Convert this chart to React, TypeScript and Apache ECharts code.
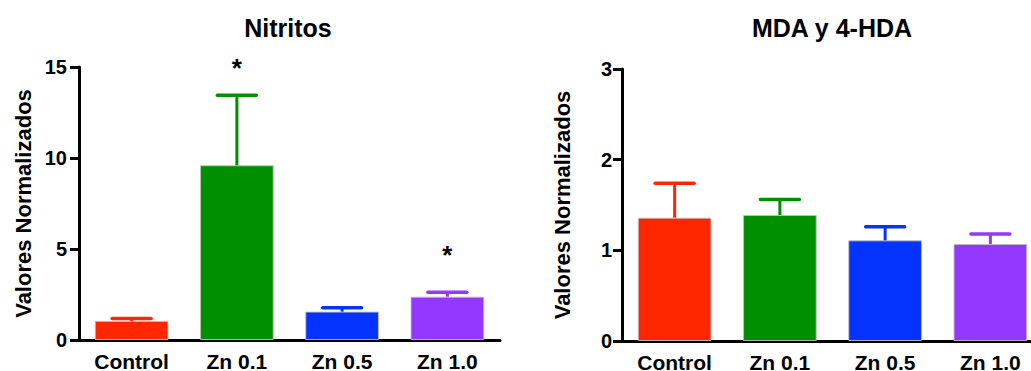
import React, { useEffect, useRef } from "react";
import * as echarts from "echarts";

const categories = ["Control", "Zn 0.1", "Zn 0.5", "Zn 1.0"];
const barColors = ["#FF2600", "#008F00", "#0433FF", "#9437FF"];

const nitritosMean = [1.05, 9.6, 1.56, 2.38];
const nitritosUpper = [1.18, 13.45, 1.77, 2.62];
const nitritosStarY = [null, 14.97, null, 4.67];

const mdaMean = [1.36, 1.39, 1.11, 1.07];
const mdaUpper = [1.74, 1.56, 1.26, 1.18];

const nitritosTicks = { min: 0, max: 15, interval: 5 };
const mdaTicks = { min: 0, max: 3, interval: 1 };

const FONT = 'Arial, "Liberation Sans", Helvetica, sans-serif';

function errRender(params: any, api: any) {
  const x = api.value(0);
  const mean = api.value(1);
  const up = api.value(2);
  const p0 = api.coord([x, mean]);
  const p1 = api.coord([x, up]);
  const half = api.size([1, 0])[0] * 0.185;
  const color = barColors[params.dataIndex];
  return {
    type: "group",
    children: [
      {
        type: "line",
        shape: { x1: p0[0], y1: p0[1], x2: p1[0], y2: p1[1] },
        style: { stroke: color, lineWidth: 3 },
      },
      {
        type: "line",
        shape: { x1: p1[0] - half, y1: p1[1], x2: p1[0] + half, y2: p1[1] },
        style: { stroke: color, lineWidth: 3.5, lineCap: "round" },
      },
    ],
  };
}

function starRender(params: any, api: any) {
  const p = api.coord([api.value(0), api.value(1)]);
  return {
    type: "text",
    x: p[0],
    y: p[1],
    style: {
      text: "*",
      textAlign: "center",
      textVerticalAlign: "middle",
      font: `bold 26px ${FONT}`,
      fill: "#000",
    },
  };
}

function xAxis(gridIndex: number) {
  return {
    type: "category",
    gridIndex,
    data: categories,
    axisLine: { lineStyle: { color: "#000", width: 3 } },
    axisTick: { alignWithLabel: true, length: 8, lineStyle: { color: "#000", width: 3 } },
    axisLabel: { color: "#000", fontSize: 21, fontWeight: "bold", fontFamily: FONT, margin: 11 },
  };
}

function yAxis(gridIndex: number, t: any, gap: number, labelMargin: number) {
  return {
    type: "value",
    gridIndex,
    min: t.min,
    max: t.max,
    interval: t.interval,
    name: "Valores Normalizados",
    nameLocation: "middle",
    nameRotate: 90,
    nameGap: gap,
    nameTextStyle: { color: "#000", fontSize: 22, fontWeight: "bold", fontFamily: FONT },
    splitLine: { show: false },
    axisLine: { show: true, lineStyle: { color: "#000", width: 3 } },
    axisTick: { show: true, length: 9, lineStyle: { color: "#000", width: 3 } },
    axisLabel: { color: "#000", fontSize: 20, fontWeight: "bold", fontFamily: FONT, margin: labelMargin },
  };
}

function barData(vals: number[]) {
  return vals.map((v, i) => ({
    value: v,
    itemStyle: { color: barColors[i], borderColor: "rgba(190,190,190,0.9)", borderWidth: 1 },
  }));
}

export default function App() {
  const ref = useRef<HTMLDivElement>(null);
  useEffect(() => {
    if (!ref.current) return;
    const chart = echarts.init(ref.current, null, { renderer: "svg" });
    chart.setOption({
      animation: false,
      backgroundColor: "#fff",
      graphic: [
        {
          type: "text",
          x: 288,
          y: 28,
          style: {
            text: "Nitritos",
            textAlign: "center",
            textVerticalAlign: "middle",
            font: `bold 25px ${FONT}`,
            fill: "#000",
          },
        },
        {
          type: "text",
          x: 832,
          y: 28,
          style: {
            text: "MDA y 4-HDA",
            textAlign: "center",
            textVerticalAlign: "middle",
            font: `bold 25px ${FONT}`,
            fill: "#000",
          },
        },
      ],
      grid: [
        { left: 79, top: 67, width: 421, height: 273, outerBoundsMode: "none", containLabel: false },
        { left: 622, top: 69, width: 421, height: 272, outerBoundsMode: "none", containLabel: false },
      ],
      xAxis: [xAxis(0), xAxis(1)],
      yAxis: [yAxis(0, nitritosTicks, 45, 12), yAxis(1, mdaTicks, 49, 10)],
      series: [
        {
          type: "bar",
          xAxisIndex: 0,
          yAxisIndex: 0,
          barWidth: "70%",
          data: barData(nitritosMean),
        },
        {
          type: "custom",
          xAxisIndex: 0,
          yAxisIndex: 0,
          renderItem: errRender,
          encode: { x: 0, y: [1, 2] },
          data: nitritosMean.map((m, i) => [i, m, nitritosUpper[i]]),
          z: 3,
        },
        {
          type: "custom",
          xAxisIndex: 0,
          yAxisIndex: 0,
          renderItem: starRender,
          encode: { x: 0, y: 1 },
          data: nitritosStarY
            .map((v, i) => (v === null ? null : [i, v]))
            .filter((d) => d !== null),
          z: 4,
        },
        {
          type: "bar",
          xAxisIndex: 1,
          yAxisIndex: 1,
          barWidth: "70%",
          data: barData(mdaMean),
        },
        {
          type: "custom",
          xAxisIndex: 1,
          yAxisIndex: 1,
          renderItem: errRender,
          encode: { x: 0, y: [1, 2] },
          data: mdaMean.map((m, i) => [i, m, mdaUpper[i]]),
          z: 3,
        },
      ],
    });
    return () => chart.dispose();
  }, []);
  return (
    <div
      ref={ref}
      style={{ position: "absolute", left: 0, top: 0, width: 1031, height: 371 }}
    />
  );
}
